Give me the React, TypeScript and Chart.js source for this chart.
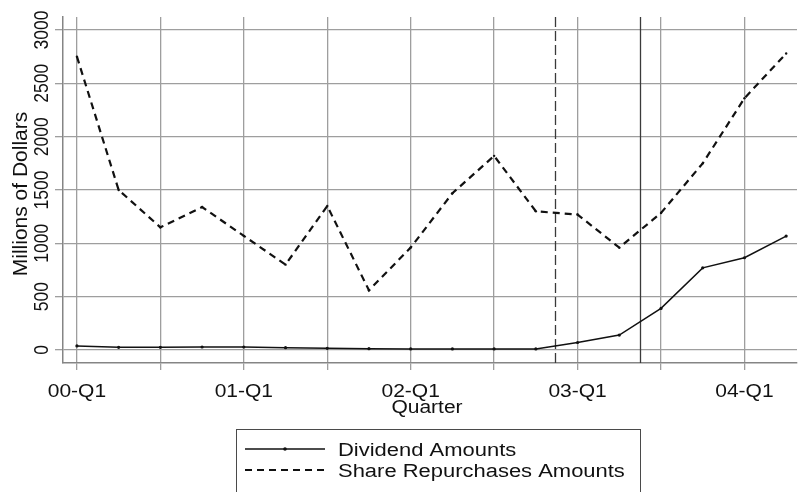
import { useEffect, useRef } from 'react';
import { Chart, registerables } from 'chart.js';

Chart.register(...registerables);

const quarters = [
  '00-Q1', '00-Q2', '00-Q3', '00-Q4',
  '01-Q1', '01-Q2', '01-Q3', '01-Q4',
  '02-Q1', '02-Q2', '02-Q3', '02-Q4',
  '03-Q1', '03-Q2', '03-Q3', '03-Q4',
  '04-Q1', '04-Q2',
];
const dividendAmounts = [38, 25, 25, 28, 28, 22, 16, 12, 10, 10, 10, 10, 70, 140, 390, 770, 865, 1068];
const repurchaseAmounts = [2750, 1500, 1150, 1340, 1070, 800, 1350, 560, 960, 1470, 1820, 1300, 1270, 960, 1285, 1750, 2360, 2780];
const seriesLabels = ['Dividend Amounts', 'Share Repurchases Amounts'];
const yTickValues = [0, 500, 1000, 1500, 2000, 2500, 3000];
const xGridIndices = [0, 2, 4, 6, 8, 10, 12, 14, 16];
const xLabelIndices = [0, 4, 8, 12, 16];
const announcementLine = 11.47; // dashed reference line (quarter index)
const enactmentLine = 13.5; // solid reference line (quarter index)
const xTitle = 'Quarter';
const yTitle = 'Millions of Dollars';

const FAMILY = '"Liberation Sans", Arial, sans-serif';
const TEXT = '#111111';

function drawText(
  ctx: CanvasRenderingContext2D,
  text: string,
  x: number,
  y: number,
  align: CanvasTextAlign,
  size: number,
  stretch: number,
  rotated = false,
) {
  ctx.save();
  ctx.translate(x, y);
  if (rotated) {
    ctx.rotate(-Math.PI / 2);
    ctx.scale(1, stretch);
  } else {
    ctx.scale(stretch, 1);
  }
  ctx.font = `${size}px ${FAMILY}`;
  ctx.fillStyle = TEXT;
  ctx.textAlign = align;
  ctx.textBaseline = 'alphabetic';
  ctx.fillText(text, 0, 0);
  ctx.restore();
}

const overlayPlugin = {
  id: 'overlay',
  beforeDatasetsDraw(chart: any) {
    const { ctx, chartArea, scales } = chart;
    const x = scales.x;
    ctx.save();
    ctx.strokeStyle = '#3a3a3a';
    ctx.lineWidth = 1.3;
    const xa = Math.round(x.getPixelForValue(announcementLine)) + 0.5;
    ctx.setLineDash([10, 4]);
    ctx.beginPath();
    ctx.moveTo(xa, chartArea.top);
    ctx.lineTo(xa, chartArea.bottom);
    ctx.stroke();
    const xe = Math.round(x.getPixelForValue(enactmentLine)) + 0.5;
    ctx.setLineDash([]);
    ctx.beginPath();
    ctx.moveTo(xe, chartArea.top);
    ctx.lineTo(xe, chartArea.bottom);
    ctx.stroke();
    ctx.restore();
  },
  afterDraw(chart: any) {
    const { ctx, chartArea, scales, data } = chart;
    const x = scales.x;
    const y = scales.y;
    yTickValues.forEach((v) => {
      drawText(ctx, String(v), 48, y.getPixelForValue(v), 'center', 17.5, 1.2, true);
    });
    drawText(ctx, yTitle, 26.5, (chartArea.top + chartArea.bottom) / 2 + 4, 'center', 21, 1.0, true);
    xLabelIndices.forEach((i) => {
      drawText(ctx, quarters[i], x.getPixelForValue(i), 397, 'center', 17.5, 1.2);
    });
    drawText(ctx, xTitle, (chartArea.left + chartArea.right) / 2 - 3, 413, 'center', 17.5, 1.2);

    // legend
    ctx.save();
    ctx.strokeStyle = '#4a4a4a';
    ctx.lineWidth = 1;
    ctx.strokeRect(236.5, 429.5, 404, 80);
    ctx.restore();
    const rows = [449, 470];
    data.datasets.forEach((ds: any, k: number) => {
      const ly = rows[k];
      ctx.save();
      ctx.strokeStyle = ds.borderColor;
      ctx.lineWidth = ds.borderWidth;
      ctx.setLineDash(ds.borderDash || []);
      ctx.beginPath();
      ctx.moveTo(245, ly);
      ctx.lineTo(325, ly);
      ctx.stroke();
      if (k === 0) {
        ctx.fillStyle = ds.pointBackgroundColor;
        ctx.beginPath();
        ctx.arc(285, ly, 1.8, 0, Math.PI * 2);
        ctx.fill();
      }
      ctx.restore();
      drawText(ctx, ds.label, 338, ly + 7, 'left', 18, 1.22);
    });
  },
};

export default function App() {
  const canvasRef = useRef<HTMLCanvasElement | null>(null);

  useEffect(() => {
    const canvas = canvasRef.current;
    if (!canvas) return;
    const chart = new Chart(canvas, {
      type: 'line',
      data: {
        datasets: [
          {
            label: seriesLabels[0],
            data: dividendAmounts.map((v, i) => ({ x: i, y: v })),
            borderColor: '#111111',
            backgroundColor: '#111111',
            pointBackgroundColor: '#111111',
            pointBorderWidth: 0,
            pointRadius: 1.6,
            borderWidth: 1.5,
            tension: 0,
          },
          {
            label: seriesLabels[1],
            data: repurchaseAmounts.map((v, i) => ({ x: i, y: v })),
            borderColor: '#111111',
            backgroundColor: '#111111',
            pointBackgroundColor: '#111111',
            pointBorderWidth: 0,
            pointRadius: 1.2,
            borderWidth: 2.2,
            borderDash: [7, 5],
            tension: 0,
          },
        ],
      },
      options: {
        animation: false,
        responsive: false,
        devicePixelRatio: 1,
        layout: { padding: { top: 17, left: 0, right: 0, bottom: 0 } },
        plugins: {
          legend: { display: false },
          tooltip: { enabled: false },
        },
        scales: {
          x: {
            type: 'linear',
            min: -0.334,
            max: 17.26,
            afterBuildTicks: (scale: any) => {
              scale.ticks = xGridIndices.map((v) => ({ value: v }));
            },
            afterFit: (scale: any) => {
              scale.height = 129;
            },
            ticks: { display: false },
            grid: { color: '#9e9e9e', lineWidth: 1.3, tickLength: 7, drawTicks: true },
            border: { display: true, color: '#858585', width: 1.5 },
          },
          y: {
            type: 'linear',
            min: -122,
            max: 3122,
            afterBuildTicks: (scale: any) => {
              scale.ticks = yTickValues.map((v) => ({ value: v }));
            },
            afterFit: (scale: any) => {
              scale.width = 63;
            },
            ticks: { display: false },
            grid: { color: '#9e9e9e', lineWidth: 1.3, tickLength: 8, drawTicks: true },
            border: { display: true, color: '#858585', width: 1.5 },
          },
        },
      },
      plugins: [overlayPlugin],
    } as any);
    return () => chart.destroy();
  }, []);

  return (
    <div style={{ position: 'absolute', left: 0, top: 0, width: 801, height: 492, background: '#ffffff' }}>
      <canvas ref={canvasRef} width={801} height={492} style={{ display: 'block', width: 801, height: 492 }} />
    </div>
  );
}
